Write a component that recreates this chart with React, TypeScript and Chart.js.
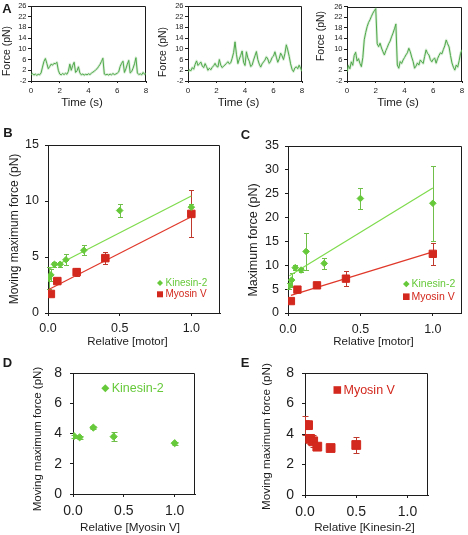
import React, { useEffect, useRef } from 'react';
import { Chart, registerables } from 'chart.js';

Chart.register(...registerables);

const W = 468;
const H = 535;
const FONT = '"Liberation Sans", Arial, Helvetica, sans-serif';
const INK = '#1c1c1c';
const GREEN = '#66c93a';
const GREEN_LINE = '#7edb4c';
const GREEN_ERR = '#6fbf4a';
const RED = '#d2281d';
const RED_LINE = '#e0382a';
const RED_ERR = '#bf3a2c';
const TRACE = '#4fa84a';
const TRACE_HALO = 'rgba(120,190,110,0.28)';

// ---------- Panel A: force traces, sampled every 0.1 s from 0 to 8 s ----------
const traceStep = 0.1;
const timeTicks = [0, 2, 4, 6, 8];
const forceTicks = [-2, 2, 6, 10, 14, 18, 22, 26];
const traceA1 = [
  0.3, 0.8, 0.2, 0.6, 0.1, 0.5, 0.3, 1.0, 3.2, 5.3,
  6.4, 4.6, 2.6, 3.4, 4.3, 3.9, 4.6, 4.4, 5.0, 2.0,
  0.6, 0.3, 0.8, 0.4, 0.9, 0.5, 1.6, 4.3, 2.0, 3.8,
  5.0, 1.2, 1.8, 3.3, 1.0, 0.3, 0.6, 0.2, 0.5, 0.3,
  0.7, 0.4, 0.9, 1.3, 1.6, 2.2, 2.6, 3.4, 4.2, 5.3,
  6.5, 0.6, 0.3, 0.5, 0.2, 0.6, 0.3, 0.8, 0.4, 0.6,
  0.9, 1.4, 3.4, 4.6, 5.4, 1.2, 2.5, 4.3, 5.7, 1.0,
  1.5, 2.8, 4.4, 6.7, 1.0, 0.4, 0.7, 0.3, 1.2, 0.5,
  0.8,
];
const traceA2 = [
  1.4, 2.2, 1.8, 3.0, 2.4, 4.2, 5.5, 3.8, 4.4, 5.1,
  3.6, 3.0, 4.5, 3.4, 2.0, 2.8, 2.2, 3.1, 3.7, 4.6,
  3.5, 3.2, 6.0, 3.9, 3.0, 3.6, 4.0, 4.6, 5.2, 4.4,
  4.8, 6.5, 8.6, 12.6, 8.0, 4.5, 6.2, 7.6, 9.2, 5.0,
  3.8, 8.9, 6.6, 5.4, 3.4, 3.9, 5.8, 7.4, 9.0, 6.0,
  4.3, 3.2, 4.4, 5.1, 5.8, 7.0, 6.2, 4.6, 5.4, 6.8,
  7.3, 8.9, 6.9, 5.0, 6.3, 8.4, 7.4, 6.0, 8.2, 11.5,
  9.6, 7.2, 4.4, 2.4, 1.5, 2.9, 3.3, 2.6, 3.9, 2.8,
  1.6,
];
const traceA3 = [
  1.5, 3.8, 2.6, 5.2, 3.9, 7.6, 8.8, 5.5, 6.4, 4.6,
  3.4, 6.8, 13.5, 16.2, 18.4, 20.0, 21.0, 22.3, 23.5, 24.4,
  25.2, 12.0, 10.9, 12.2, 10.4, 9.0, 7.8, 9.4, 10.6, 12.0,
  13.0, 14.6, 16.0, 17.6, 19.4, 4.0, 2.8, 5.3, 4.6, 5.9,
  6.8, 7.8, 8.6, 10.3, 9.0, 7.0, 5.3, 2.8, 3.6, 4.8,
  4.0, 5.9, 5.2, 4.6, 7.2, 9.7, 8.4, 7.8, 6.0, 5.2,
  6.2, 6.6, 4.7, 6.4, 7.6, 8.6, 8.2, 9.8, 11.2, 13.4,
  12.0, 10.8, 7.6, 4.8, 3.2, 2.1, 4.0, 3.2, 5.6, 8.4,
  9.7,
];

// ---------- Panel B: moving maximum force vs relative [motor] ----------
const relTicks = [0, 0.5, 1.0];
const bYTicks = [0, 5, 10, 15];
const bKinX = [0.005, 0.02, 0.045, 0.085, 0.125, 0.25, 0.5, 1.0];
const bKinY = [3.1, 3.4, 4.35, 4.35, 4.75, 5.6, 9.15, 9.45];
const bKinErr = [1.0, 0.5, 0.2, 0.2, 0.5, 0.45, 0.6, 0.3];
const bMyoX = [0.02, 0.065, 0.2, 0.4, 1.0];
const bMyoY = [1.7, 2.85, 3.65, 4.9, 8.85];
const bMyoErr = [0.1, 0.2, 0.35, 0.55, 2.1];
const bKinFitX = [0.005, 1.0];
const bKinFitY = [3.9, 10.45];
const bMyoFitX = [0.005, 1.0];
const bMyoFitY = [2.1, 8.6];

// ---------- Panel C: maximum force vs relative [motor] ----------
const cYTicks = [0, 5, 10, 15, 20, 25, 30, 35];
const cKinX = [0.01, 0.025, 0.05, 0.09, 0.125, 0.25, 0.5, 1.0];
const cKinY = [5.7, 6.9, 9.5, 9.0, 12.9, 10.4, 24.0, 23.0];
const cKinErr = [0.6, 1.4, 0.5, 0.5, 3.9, 1.1, 2.2, 7.9];
const cMyoX = [0.02, 0.065, 0.2, 0.4, 1.0];
const cMyoY = [2.5, 4.9, 5.8, 7.2, 12.4];
const cMyoErr = [0.3, 0.3, 0.5, 1.5, 2.25];
const cKinFitX = [0.01, 1.0];
const cKinFitY = [7.8, 26.2];
const cMyoFitX = [0.02, 1.0];
const cMyoFitY = [3.7, 12.8];

// ---------- Panel D: Kinesin-2 vs relative [Myosin V] ----------
const deYTicks = [0, 2, 4, 6, 8];
const dKinX = [0.01, 0.065, 0.2, 0.4, 1.0];
const dKinY = [3.83, 3.75, 4.39, 3.79, 3.36];
const dKinErr = [0.1, 0.1, 0.12, 0.3, 0.1];

// ---------- Panel E: Myosin V vs relative [Kinesin-2] ----------
const eMyoX = [0.0, 0.03, 0.05, 0.08, 0.12, 0.25, 0.5];
const eMyoY = [4.58, 4.58, 3.68, 3.52, 3.17, 3.08, 3.28];
const eMyoErr = [0.62, 0.2, 0.35, 0.4, 0.2, 0.08, 0.55];

// ---------- helpers ----------
type TextItem = { s: string; x: number; y: number; size: number; color?: string; bold?: boolean; rot?: boolean; align?: CanvasTextAlign };
type ErrSet = { xs: number[]; ys: number[]; es: number[]; color: string; cap: number };
type Marker = { shape: 'diamond' | 'square'; x: number; y: number; r: number; color: string };
type AxisCfg = { min: number; max: number; ticks: number[]; fmt: (v: number) => string; size: number; tl: number; pad: number };
type PanelCfg = {
  plot: [number, number, number, number];
  x: AxisCfg;
  y: AxisCfg;
  datasets: any[];
  errors: ErrSet[];
  texts: TextItem[];
  markers: Marker[];
};

const pts = (xs: number[], ys: number[]) => xs.map((x, i) => ({ x, y: ys[i] }));
const tracePts = (f: number[]) => f.map((y, i) => ({ x: +(i * traceStep).toFixed(2), y }));
const int = (v: number) => String(v);
const dec1 = (v: number) => v.toFixed(1);

const traceSets = (f: number[]) => [
  { data: tracePts(f), showLine: true, pointRadius: 0, borderColor: TRACE, borderWidth: 1, tension: 0, borderJoinStyle: 'round' },
  { data: tracePts(f), showLine: true, pointRadius: 0, borderColor: TRACE_HALO, borderWidth: 2.6, tension: 0, borderJoinStyle: 'round' },
];
const pointSet = (xs: number[], ys: number[], style: string, r: number, color: string) => ({
  data: pts(xs, ys), pointStyle: style, pointRadius: r, pointBackgroundColor: color, pointBorderColor: color, pointBorderWidth: 1, showLine: false,
});
const lineSet = (xs: number[], ys: number[], color: string) => ({
  data: pts(xs, ys), showLine: true, pointRadius: 0, borderColor: color, borderWidth: 1.2, tension: 0,
});

const aX: AxisCfg = { min: 0, max: 8, ticks: timeTicks, fmt: int, size: 8, tl: 2, pad: 2.5 };
const aY: AxisCfg = { min: -2, max: 26, ticks: forceTicks, fmt: int, size: 7.5, tl: 3, pad: 1.5 };

const panels: PanelCfg[] = [
  {
    plot: [31, 6, 146, 81], x: aX, y: aY, datasets: traceSets(traceA1), errors: [], markers: [],
    texts: [
      { s: 'A', x: 7, y: 9.5, size: 13, bold: true },
      { s: 'Force (pN)', x: 7, y: 51, size: 10.5, rot: true },
      { s: 'Time (s)', x: 82, y: 103, size: 11.5 },
    ],
  },
  {
    plot: [188, 6, 302, 81], x: aX, y: aY, datasets: traceSets(traceA2), errors: [], markers: [],
    texts: [
      { s: 'Force (pN)', x: 163.5, y: 52, size: 10.5, rot: true },
      { s: 'Time (s)', x: 238.5, y: 103, size: 11.5 },
    ],
  },
  {
    plot: [347, 6.5, 462, 81], x: aX, y: aY, datasets: traceSets(traceA3), errors: [], markers: [],
    texts: [
      { s: 'Force (pN)', x: 321.5, y: 36, size: 10.5, rot: true },
      { s: 'Time (s)', x: 398, y: 103, size: 11.5 },
    ],
  },
  {
    plot: [48, 145, 220, 313],
    x: { min: 0, max: 1.2, ticks: relTicks, fmt: dec1, size: 12.5, tl: 3, pad: 5.5 },
    y: { min: 0, max: 15, ticks: bYTicks, fmt: int, size: 12.5, tl: 3, pad: 6 },
    datasets: [
      pointSet(bKinX, bKinY, 'rectRot', 3.3, GREEN),
      pointSet(bMyoX, bMyoY, 'rect', 5.3, RED),
      lineSet(bKinFitX, bKinFitY, GREEN_LINE),
      lineSet(bMyoFitX, bMyoFitY, RED_LINE),
    ],
    errors: [
      { xs: bKinX, ys: bKinY, es: bKinErr, color: GREEN_ERR, cap: 2.5 },
      { xs: bMyoX, ys: bMyoY, es: bMyoErr, color: RED_ERR, cap: 2.5 },
    ],
    markers: [
      { shape: 'diamond', x: 160, y: 283, r: 3, color: GREEN },
      { shape: 'square', x: 160, y: 294.3, r: 3, color: RED },
    ],
    texts: [
      { s: 'B', x: 8, y: 133, size: 13, bold: true },
      { s: 'Moving maximum force (pN)', x: 15, y: 229, size: 12, rot: true },
      { s: 'Relative [motor]', x: 127.5, y: 342, size: 11.5 },
      { s: 'Kinesin-2', x: 165.5, y: 283, size: 10, color: GREEN, align: 'left' },
      { s: 'Myosin V', x: 165.5, y: 294.5, size: 10, color: RED, align: 'left' },
    ],
  },
  {
    plot: [288, 146, 466, 313],
    x: { min: 0, max: 1.2, ticks: relTicks, fmt: dec1, size: 12.5, tl: 3, pad: 6.5 },
    y: { min: 0, max: 35, ticks: cYTicks, fmt: int, size: 12.5, tl: 3, pad: 6 },
    datasets: [
      pointSet(cKinX, cKinY, 'rectRot', 3.3, GREEN),
      pointSet(cMyoX, cMyoY, 'rect', 5.2, RED),
      lineSet(cKinFitX, cKinFitY, GREEN_LINE),
      lineSet(cMyoFitX, cMyoFitY, RED_LINE),
    ],
    errors: [
      { xs: cKinX, ys: cKinY, es: cKinErr, color: GREEN_ERR, cap: 2.5 },
      { xs: cMyoX, ys: cMyoY, es: cMyoErr, color: RED_ERR, cap: 2.5 },
    ],
    markers: [
      { shape: 'diamond', x: 406.3, y: 284, r: 3.3, color: GREEN },
      { shape: 'square', x: 406.3, y: 296.7, r: 3.3, color: RED },
    ],
    texts: [
      { s: 'C', x: 245.5, y: 135, size: 13, bold: true },
      { s: 'Maximum force (pN)', x: 254, y: 240, size: 12.5, rot: true },
      { s: 'Relative [motor]', x: 373.5, y: 342, size: 11.5 },
      { s: 'Kinesin-2', x: 411.5, y: 284.5, size: 10.5, color: GREEN, align: 'left' },
      { s: 'Myosin V', x: 411.5, y: 297, size: 10.5, color: RED, align: 'left' },
    ],
  },
  {
    plot: [73, 373, 195, 494],
    x: { min: 0, max: 1.2, ticks: relTicks, fmt: dec1, size: 14, tl: 3, pad: 6 },
    y: { min: 0, max: 8, ticks: deYTicks, fmt: int, size: 14, tl: 3, pad: 8 },
    datasets: [pointSet(dKinX, dKinY, 'rectRot', 3.6, GREEN)],
    errors: [{ xs: dKinX, ys: dKinY, es: dKinErr, color: GREEN_ERR, cap: 3 }],
    markers: [{ shape: 'diamond', x: 105.3, y: 388.3, r: 4, color: GREEN }],
    texts: [
      { s: 'D', x: 7.5, y: 363.5, size: 13, bold: true },
      { s: 'Moving maximum force (pN)', x: 38, y: 439, size: 11.5, rot: true },
      { s: 'Relative [Myosin V]', x: 130, y: 527.5, size: 11.7 },
      { s: 'Kinesin-2', x: 111.7, y: 388.5, size: 12.5, color: GREEN, align: 'left' },
    ],
  },
  {
    plot: [305, 373, 428, 495],
    x: { min: 0, max: 1.2, ticks: relTicks, fmt: dec1, size: 14, tl: 3, pad: 5.5 },
    y: { min: 0, max: 8, ticks: deYTicks, fmt: int, size: 14, tl: 3, pad: 8 },
    datasets: [pointSet(eMyoX, eMyoY, 'rect', 6.2, RED)],
    errors: [{ xs: eMyoX, ys: eMyoY, es: eMyoErr, color: RED_ERR, cap: 3 }],
    markers: [{ shape: 'square', x: 337.3, y: 390, r: 3.8, color: RED }],
    texts: [
      { s: 'E', x: 245, y: 363.5, size: 13, bold: true },
      { s: 'Moving maximum force (pN)', x: 267, y: 436.5, size: 11.7, rot: true },
      { s: 'Relative [Kinesin-2]', x: 364.5, y: 527.5, size: 11.7 },
      { s: 'Myosin V', x: 343.5, y: 390.5, size: 12.5, color: RED, align: 'left' },
    ],
  },
];

function axisOptions(a: AxisCfg, dir: 'x' | 'y', size: number) {
  return {
    type: 'linear',
    position: dir === 'x' ? 'bottom' : 'left',
    min: a.min,
    max: a.max,
    afterBuildTicks: (s: any) => {
      s.ticks = a.ticks.map((v) => ({ value: v }));
    },
    afterFit: (s: any) => {
      if (dir === 'x') s.height = size;
      else s.width = size;
    },
    grid: { display: true, drawOnChartArea: false, drawTicks: true, tickLength: a.tl, color: INK, lineWidth: 1 },
    border: { display: true, color: INK, width: 1 },
    ticks: {
      font: { family: FONT, size: a.size },
      color: INK,
      padding: a.pad,
      maxRotation: 0,
      minRotation: 0,
      autoSkip: false,
      callback: (v: any) => a.fmt(Number(v)),
    },
    title: { display: false },
  };
}

function overlayPlugin(p: PanelCfg) {
  return {
    id: 'overlay',
    beforeDatasetsDraw(chart: any) {
      const ctx: CanvasRenderingContext2D = chart.ctx;
      const { left, top, right, bottom } = chart.chartArea;
      ctx.save();
      ctx.strokeStyle = INK;
      ctx.lineWidth = 1;
      ctx.beginPath();
      ctx.moveTo(Math.round(left) + 0.5, Math.round(top) + 0.5);
      ctx.lineTo(Math.round(right) - 0.5, Math.round(top) + 0.5);
      ctx.lineTo(Math.round(right) - 0.5, Math.round(bottom) + 0.5);
      ctx.stroke();
      const xs = chart.scales.x;
      const ys = chart.scales.y;
      p.errors.forEach((e) => {
        ctx.strokeStyle = e.color;
        ctx.lineWidth = 1;
        e.xs.forEach((x, i) => {
          const err = e.es[i];
          if (!err) return;
          const px = Math.round(xs.getPixelForValue(x)) + 0.5;
          const y1 = Math.round(ys.getPixelForValue(e.ys[i] - err)) + 0.5;
          const y2 = Math.round(ys.getPixelForValue(e.ys[i] + err)) + 0.5;
          ctx.beginPath();
          ctx.moveTo(px, y1);
          ctx.lineTo(px, y2);
          ctx.moveTo(px - e.cap, y1);
          ctx.lineTo(px + e.cap, y1);
          ctx.moveTo(px - e.cap, y2);
          ctx.lineTo(px + e.cap, y2);
          ctx.stroke();
        });
      });
      ctx.restore();
    },
    afterDraw(chart: any) {
      const ctx: CanvasRenderingContext2D = chart.ctx;
      ctx.save();
      p.markers.forEach((m) => {
        ctx.fillStyle = m.color;
        ctx.beginPath();
        if (m.shape === 'diamond') {
          ctx.moveTo(m.x - m.r, m.y);
          ctx.lineTo(m.x, m.y - m.r);
          ctx.lineTo(m.x + m.r, m.y);
          ctx.lineTo(m.x, m.y + m.r);
          ctx.closePath();
        } else {
          ctx.rect(m.x - m.r, m.y - m.r, 2 * m.r, 2 * m.r);
        }
        ctx.fill();
      });
      p.texts.forEach((t) => {
        ctx.save();
        ctx.font = `${t.bold ? 'bold ' : ''}${t.size}px ${FONT}`;
        ctx.fillStyle = t.color || INK;
        ctx.textBaseline = 'middle';
        ctx.textAlign = t.align || 'center';
        if (t.rot) {
          ctx.translate(t.x, t.y);
          ctx.rotate(-Math.PI / 2);
          ctx.fillText(t.s, 0, 0);
        } else {
          ctx.fillText(t.s, t.x, t.y);
        }
        ctx.restore();
      });
      ctx.restore();
    },
  };
}

function buildConfig(p: PanelCfg): any {
  const [l, t, r, b] = p.plot;
  const yW = Math.min(l, 40);
  const xH = 30;
  return {
    type: 'scatter',
    data: { datasets: p.datasets },
    options: {
      responsive: false,
      animation: false,
      devicePixelRatio: 1,
      events: [],
      layout: { padding: { left: l - yW, top: t, right: W - r, bottom: H - b - xH } },
      plugins: { legend: { display: false }, tooltip: { enabled: false }, title: { display: false } },
      scales: { x: axisOptions(p.x, 'x', xH), y: axisOptions(p.y, 'y', yW) },
    },
    plugins: [overlayPlugin(p)],
  };
}

function PanelChart({ cfg }: { cfg: PanelCfg }) {
  const ref = useRef<HTMLCanvasElement>(null);
  useEffect(() => {
    const chart = new Chart(ref.current as HTMLCanvasElement, buildConfig(cfg));
    return () => chart.destroy();
  }, [cfg]);
  return (
    <canvas
      ref={ref}
      width={W}
      height={H}
      style={{ position: 'absolute', left: 0, top: 0, width: W, height: H }}
    />
  );
}

export default function App() {
  return (
    <div style={{ position: 'absolute', left: 0, top: 0, width: W, height: H, background: '#ffffff', overflow: 'hidden' }}>
      {panels.map((p, i) => (
        <PanelChart key={i} cfg={p} />
      ))}
    </div>
  );
}
